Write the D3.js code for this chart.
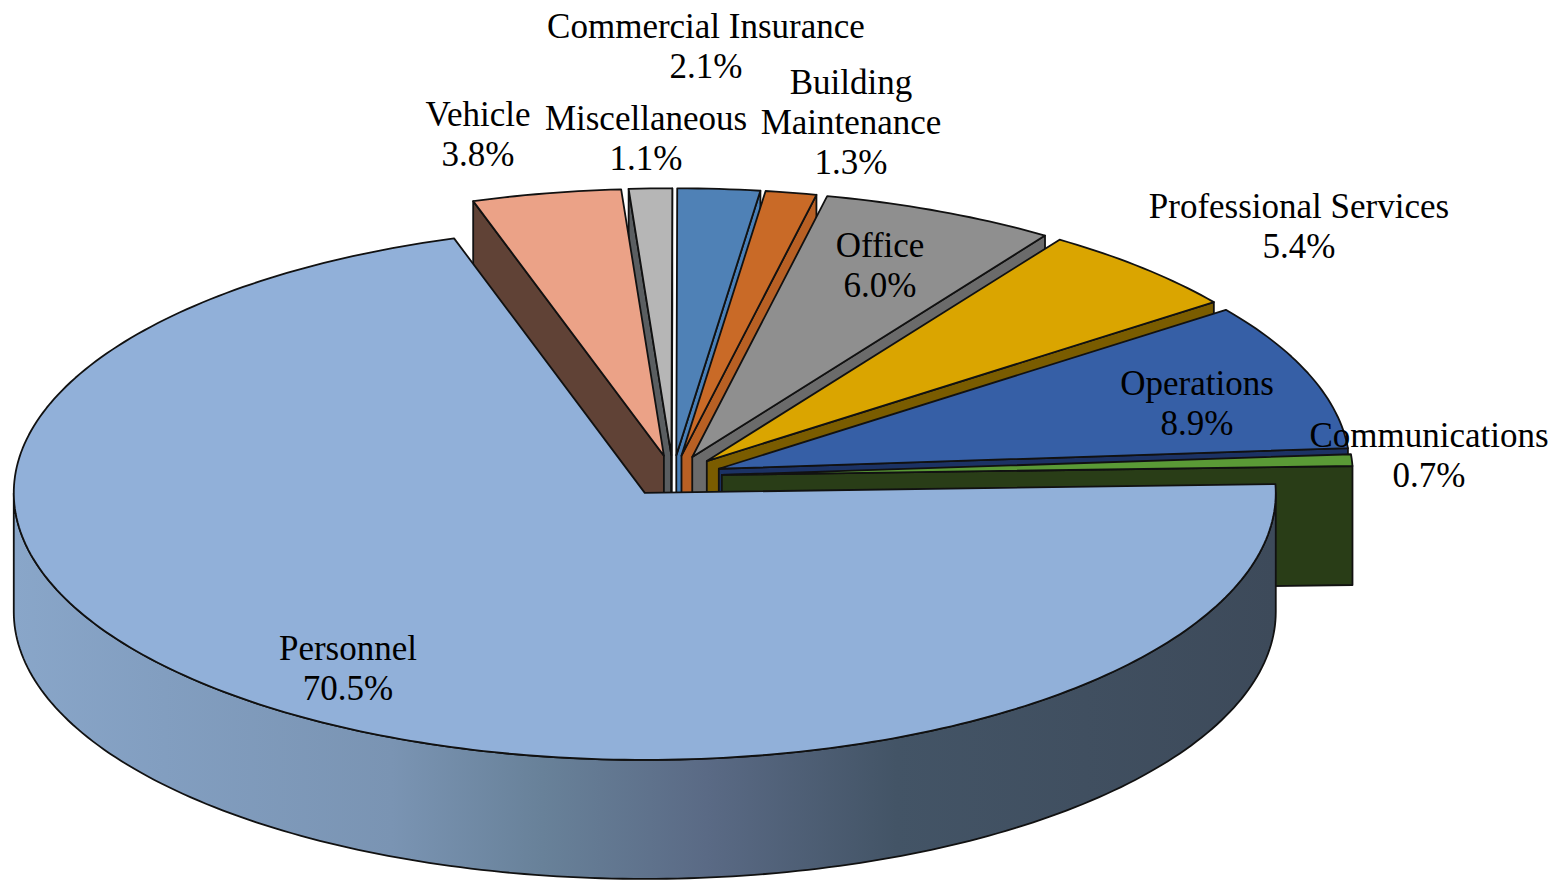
<!DOCTYPE html>
<html>
<head>
<meta charset="utf-8">
<script src="https://cdn.jsdelivr.net/npm/d3@7"></script>
<style>
  html, body { margin: 0; background: #fff; }
  svg { display: block; }
  .face { stroke: #111; stroke-width: 1.8; stroke-linejoin: round; }
  .label { font-family: "Liberation Serif", serif; font-size: 35px; fill: #000; text-anchor: middle; }
</style>
</head>
<body>
<svg id="chart" width="1553" height="880"></svg>
<script>
const categories = ['Personnel', 'Vehicle', 'Miscellaneous', 'Commercial Insurance', 'Building Maintenance',
  'Office', 'Professional Services', 'Operations', 'Communications'];
const shares = [70.5, 3.8, 1.1, 2.1, 1.3, 6.0, 5.4, 8.9, 0.7];
const topColors = ['#91B0D9', '#EBA287', '#B6B6B6', '#4F81B6', '#C96A27', '#8F8F8F', '#DAA500', '#365FA6', '#5A9A36'];
const wallColors = ['#3E4B5C', '#604236', '#5A5E61', '#4A80B8', '#B86024', '#6B6B6B', '#7A5C00', '#1C3264', '#293D17'];

const CX = 673, CY = 476, RX = 631, RY = 267, DEPTH = 119, EXPLODE = 0.0775;
const DEG = Math.PI / 180;
const START = 88.1;

// centre x and baseline y of the first line of each label
const labelAt = {
  'Personnel': [348, 660, ['Personnel']],
  'Vehicle': [478, 126, ['Vehicle']],
  'Miscellaneous': [646, 130, ['Miscellaneous']],
  'Commercial Insurance': [706, 38, ['Commercial Insurance']],
  'Building Maintenance': [851, 94, ['Building', 'Maintenance']],
  'Office': [880, 257, ['Office']],
  'Professional Services': [1299, 218, ['Professional Services']],
  'Operations': [1197, 395, ['Operations']],
  'Communications': [1429, 447, ['Communications']]
};

const x = d3.scaleLinear().domain([-1, 1]).range([CX - RX, CX + RX]);
const y = d3.scaleLinear().domain([-1, 1]).range([CY + RY, CY - RY]);
const line = d3.line();

const svg = d3.select('#chart');

const grad = svg.append('defs').append('linearGradient')
  .attr('id', 'rim').attr('gradientUnits', 'userSpaceOnUse')
  .attr('x1', 13).attr('x2', 1275).attr('y1', 0).attr('y2', 0);
[[0, '#89A6C9'], [0.12, '#829EC0'], [0.3, '#7A94B3'], [0.42, '#688199'], [0.55, '#5A6A85'],
  [0.7, '#435466'], [1, '#3D4A5A']].forEach(s => {
  grad.append('stop').attr('offset', s[0]).attr('stop-color', s[1]);
});

const arcs = d3.pie().sort(null).startAngle(START * DEG).endAngle((START + 360) * DEG)(shares);

const slices = arcs.map((a, i) => {
  const mid = (a.startAngle + a.endAngle) / 2;
  return {
    name: categories[i], value: shares[i], top: topColors[i], wall: wallColors[i],
    a0: a.startAngle, a1: a.endAngle,
    ox: EXPLODE * Math.sin(mid), oy: EXPLODE * Math.cos(mid)
  };
});

function pt(s, angle, r, drop) {
  return [x(s.ox + r * Math.sin(angle)), y(s.oy + r * Math.cos(angle)) + drop];
}

function arcPts(s, from, to, drop) {
  const n = Math.max(2, Math.ceil((to - from) / DEG));
  return d3.range(n + 1).map(k => pt(s, from + (to - from) * k / n, 1, drop));
}

// back slices first, Personnel sits in front of everything
const paintOrder = ['Miscellaneous', 'Vehicle', 'Commercial Insurance', 'Building Maintenance', 'Office',
  'Professional Services', 'Operations', 'Communications', 'Personnel'];
const g = svg.append('g');

paintOrder.map(n => slices.find(s => s.name === n)).forEach(s => {
  const group = g.append('g').attr('class', 'slice');
  const apex = pt(s, 0, 0, 0), apexLow = pt(s, 0, 0, DEPTH);

  // radial walls that face the viewer
  [[s.a0, s.a0 - Math.PI / 2], [s.a1, s.a1 + Math.PI / 2]].forEach(w => {
    if (Math.cos(w[1]) >= 0.001) return;
    group.append('path').attr('class', 'face').attr('fill', s.wall)
      .attr('d', line([apex, pt(s, w[0], 1, 0), pt(s, w[0], 1, DEPTH), apexLow]) + 'Z');
  });

  // outer rim, front half only
  const from = Math.max(s.a0, Math.PI / 2), to = Math.min(s.a1, 1.5 * Math.PI);
  if (to > from) {
    const pts = arcPts(s, from, to, 0).concat(arcPts(s, from, to, DEPTH).reverse());
    group.append('path').attr('class', 'face')
      .attr('fill', s.name === 'Personnel' ? 'url(#rim)' : s.wall)
      .attr('d', line(pts) + 'Z');
  }

  group.append('path').attr('class', 'face').attr('fill', s.top)
    .attr('d', line([apex].concat(arcPts(s, s.a0, s.a1, 0))) + 'Z');
});

const labels = svg.append('g').selectAll('text').data(slices).enter().append('text')
  .attr('class', 'label')
  .attr('x', d => labelAt[d.name][0])
  .attr('y', d => labelAt[d.name][1]);

labels.selectAll('tspan')
  .data(d => labelAt[d.name][2].concat(d.value.toFixed(1) + '%'))
  .enter().append('tspan')
  .attr('x', function () { return this.parentNode.getAttribute('x'); })
  .attr('dy', (_, i) => i === 0 ? 0 : 40)
  .text(d => d);
</script>
</body>
</html>
